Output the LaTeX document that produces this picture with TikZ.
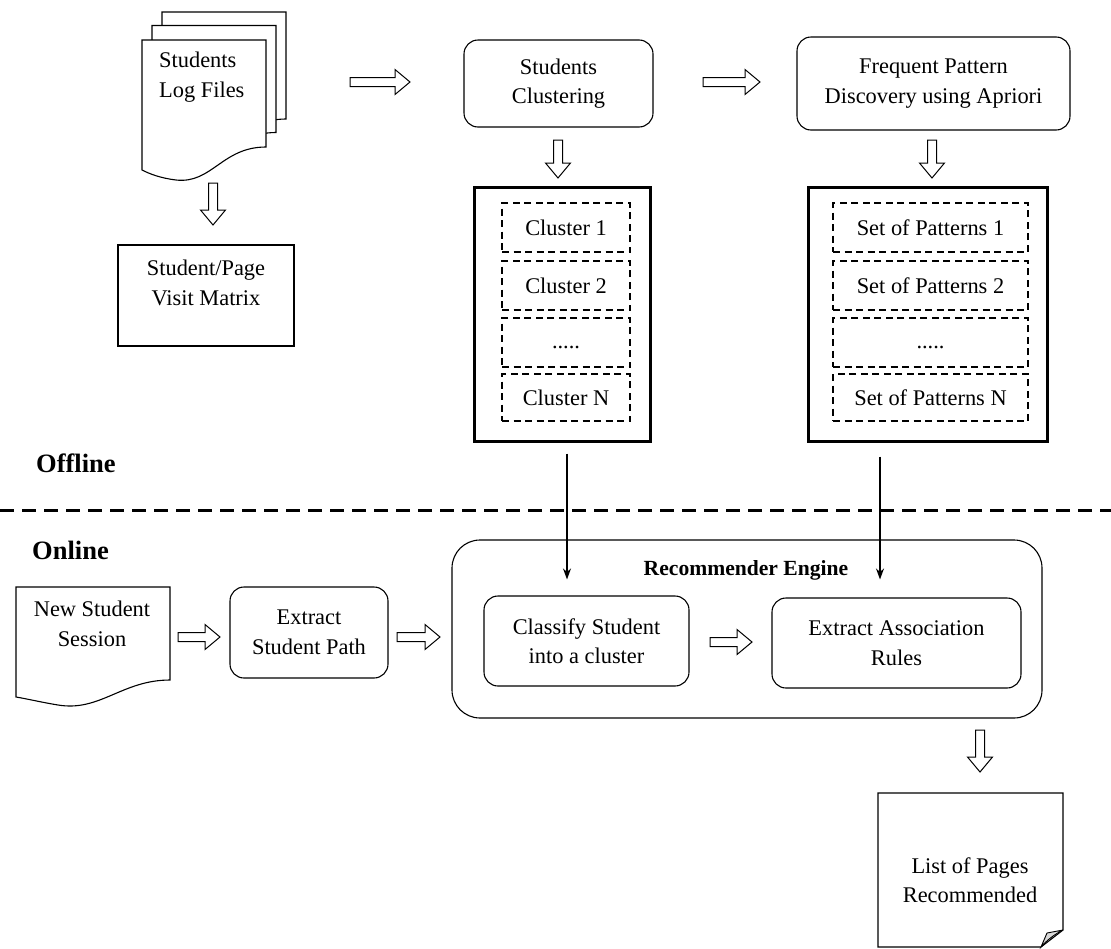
\documentclass[tikz,border=0pt]{standalone}
\usepackage{fontspec}
\setmainfont{Liberation Serif}
\usetikzlibrary{arrows.meta,calc}

\tikzset{
  txt/.style={font=\fontsize{22.4}{29.5}\selectfont, align=center, inner sep=0pt},
  boldtxt/.style={font=\fontsize{26.5}{30}\selectfont\bfseries, inner sep=0pt},
  plainbox/.style={draw, line width=1.1pt, fill=white},
  rbox/.style={draw, line width=1.1pt, rounded corners=14pt, txt},
  container/.style={draw, line width=3pt},
  dbox/.style={draw, line width=1.4pt, dash pattern=on 7pt off 4.5pt, txt},
  docpage/.style={draw, line width=1.1pt, fill=white},
  flowline/.style={line width=1.4pt, -{Stealth[length=11pt,width=8pt]}},
  harrow/.pic={
    \draw[line width=1pt, fill=white]
      (0,-4.5) -- (#1-15,-4.5) -- (#1-15,-12.5) -- (#1,0) -- (#1-15,12.5)
      -- (#1-15,4.5) -- (0,4.5) -- cycle;
  }
}

\begin{document}
\begin{tikzpicture}[x=1pt,y=-1pt]
\useasboundingbox (0,0) rectangle (1111,948);

% ---------- stack of log files ----------
\foreach \dx/\dy in {20/-28, 10/-14.5, 0/0}{
  \draw[docpage, shift={(\dx,\dy)}]
    (142,40) -- (266,40) -- (266,147)
    .. controls (222,147) and (212,184) .. (176,180)
    .. controls (160,178) and (150,174) .. (142,170) -- cycle;
}
\node[txt, align=left, anchor=north west] (logs) at (159,52) {Students\\Log Files};

% ---------- student/page matrix ----------
\node[plainbox, minimum width=176pt, minimum height=101pt] (matrix) at (206,295.5) {};
\node[txt] (matrixtxt) at (206,283) {Student/Page\\Visit Matrix};

% ---------- clustering and pattern discovery ----------
\node[rbox, minimum width=189pt, minimum height=87pt] (clust) at (558.5,83.5) {Students\\Clustering};
\node[rbox, minimum width=273pt, minimum height=93pt] (fpd) at (933.5,83.5) {Frequent Pattern\\Discovery using Apriori};

\node[container, minimum width=176pt, minimum height=254pt] (clusters) at (562,314) {};
\node[dbox, minimum width=128pt, minimum height=49pt] (c1) at (566,227.5) {Cluster 1};
\node[dbox, minimum width=128pt, minimum height=49pt] (c2) at (566,285.5) {Cluster 2};
\node[dbox, minimum width=128pt, minimum height=49pt] (c3) at (566,342.5) {\strut.....};
\node[dbox, minimum width=128pt, minimum height=47pt] (c4) at (566,397.5) {Cluster N};

\node[container, minimum width=239pt, minimum height=254pt] (patterns) at (927.5,314) {};
\node[dbox, minimum width=195pt, minimum height=49pt] (p1) at (930.5,227.5) {Set of Patterns 1};
\node[dbox, minimum width=195pt, minimum height=49pt] (p2) at (930.5,285.5) {Set of Patterns 2};
\node[dbox, minimum width=195pt, minimum height=49pt] (p3) at (930.5,342.5) {\strut.....};
\node[dbox, minimum width=195pt, minimum height=47pt] (p4) at (930.5,397.5) {Set of Patterns N};

% ---------- offline / online divider ----------
\node[boldtxt, anchor=west] (offline) at (36,463) {Offline};
\node[boldtxt, anchor=west] (online) at (32,550) {Online};
\draw[line width=3pt, dash pattern=on 14pt off 8pt] (0,510) -- (1111,510);

% ---------- online part ----------
\draw[docpage]
  (16,587) -- (170,587) -- (170,680)
  .. controls (122,680) and (100,712) .. (58,705)
  .. controls (40,702) and (28,699) .. (16,697) -- cycle;
\node[txt] (session) at (92,624) {New Student\\Session};

\node[rbox, minimum width=158pt, minimum height=91pt] (path) at (309,632.5) {Extract\\Student Path};

\node[draw, line width=1.1pt, rounded corners=28pt, minimum width=590pt, minimum height=178pt] (engine) at (747,629) {};
\node[boldtxt, font=\fontsize{21.6}{26}\selectfont\bfseries] (enginetxt) at (746,570) {Recommender Engine};
\node[rbox, minimum width=205pt, minimum height=90pt] (classify) at (586.5,641) {Classify Student\\into a cluster};
\node[rbox, minimum width=249pt, minimum height=90pt] (rules) at (896.5,643) {Extract Association\\Rules};

% ---------- recommended pages ----------
\draw[docpage] (1041,947) -- (878,947) -- (878,793) -- (1063,793) -- (1063,930) -- (1041,947);
\draw[line width=0.9pt, fill=gray!30] (1063,930) -- (1047,933) -- (1041,947)
  .. controls (1047,940) and (1055,934) .. (1063,930);
\node[txt] (pages) at (970,880) {List of Pages\\Recommended};

% ---------- block arrows ----------
\pic at (350,82) {harrow=60};
\pic at (703,82) {harrow=57};
\pic at (178,637) {harrow=42};
\pic at (397,637) {harrow=43};
\pic at (710,642) {harrow=42};
\pic[rotate=-90] at (213,183) {harrow=42};
\pic[rotate=-90] at (558,140) {harrow=38};
\pic[rotate=-90] at (932,140) {harrow=38};
\pic[rotate=-90] at (980,730) {harrow=42};

% ---------- offline results feeding the engine ----------
\coordinate (intoclassify) at ($(classify.north)+(-19.5,-16)$);
\coordinate (intorules) at ($(rules.north)+(-16.5,-18)$);
\draw[flowline] ($(clusters.south)+(5,11)$) -- (intoclassify);
\draw[flowline] ($(patterns.south)+(-47.5,14)$) -- (intorules);

\end{tikzpicture}
\end{document}
